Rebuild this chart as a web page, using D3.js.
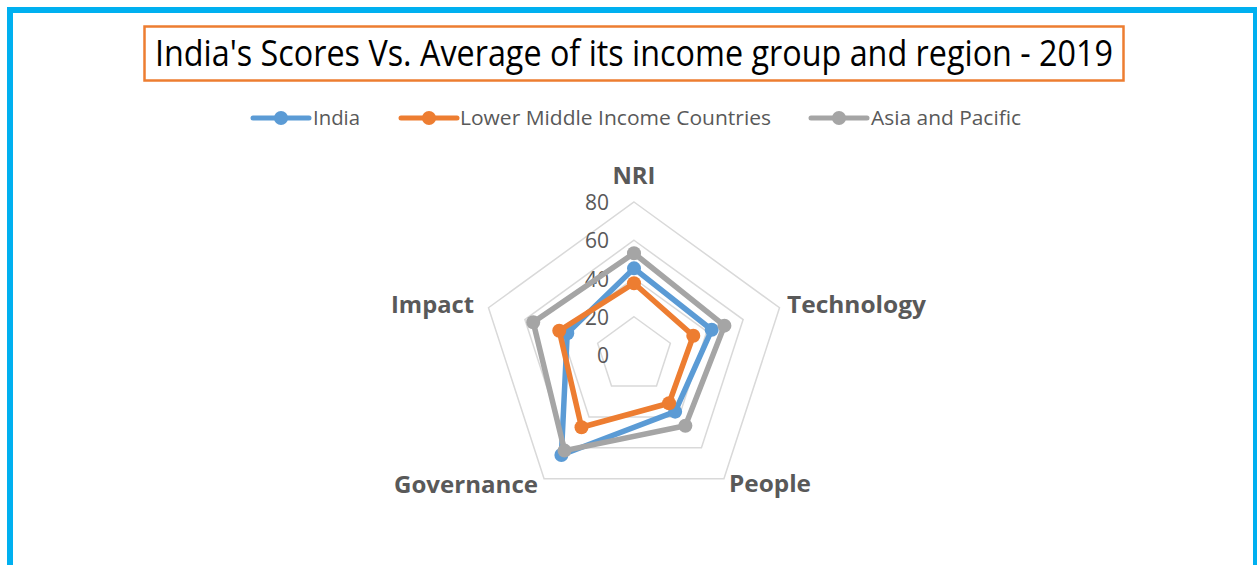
<!DOCTYPE html>
<html>
<head>
<meta charset="utf-8">
<script src="https://cdn.jsdelivr.net/npm/d3@7"></script>
<style>
  body { margin: 0; background: #fff; }
  text { font-family: "Open Sans", "Noto Sans", sans-serif; }
</style>
</head>
<body>
<div id="chart"></div>
<script>
// data
var axes = ["NRI", "Technology", "People", "Governance", "Impact"];
var india = [45.3, 42.7, 36.6, 64.6, 36.7];
var lowerMiddle = [37.5, 32.6, 31.2, 46.7, 41.1];
var asiaPacific = [53.2, 49.7, 45.7, 61.8, 55.4];
var ticks = [0, 20, 40, 60, 80];
var seriesNames = ["India", "Lower Middle Income Countries", "Asia and Pacific"];
var colors = ["#5B9BD5", "#ED7D31", "#A5A5A5"];

var svgWidth = 1257;
var svgHeight = 565;
var cx = 634, cy = 355;

var svg = d3.select("#chart")
  .append("svg")
  .attr("width", svgWidth)
  .attr("height", svgHeight);

// outer frame
svg.append("rect")
  .attr("x", 10).attr("y", 10)
  .attr("width", 1246).attr("height", 600)
  .attr("fill", "none")
  .attr("stroke", "#00B0F0")
  .attr("stroke-width", 6);

// title box
svg.append("rect")
  .attr("x", 144.5).attr("y", 26.5)
  .attr("width", 979).attr("height", 54)
  .attr("fill", "#fff")
  .attr("stroke", "#ED7D31")
  .attr("stroke-width", 2.5);

svg.append("text")
  .attr("x", 155).attr("y", 66)
  .attr("textLength", 958)
  .attr("lengthAdjust", "spacingAndGlyphs")
  .style("font-size", "36px")
  .style("fill", "#000")
  .text("India's Scores Vs. Average of its income group and region - 2019");

// legend
var legendItems = [
  {x: 253, tx: 313, tw: 47},
  {x: 401, tx: 460, tw: 311},
  {x: 811, tx: 871, tw: 150}
];
var legend = svg.append("g");
legendItems.forEach(function(d, i) {
  legend.append("line")
    .attr("x1", d.x).attr("x2", d.x + 56)
    .attr("y1", 118).attr("y2", 118)
    .attr("stroke", colors[i])
    .attr("stroke-width", 5)
    .attr("stroke-linecap", "round");
  legend.append("circle")
    .attr("cx", d.x + 28).attr("cy", 118)
    .attr("r", 7)
    .attr("fill", colors[i]);
  legend.append("text")
    .attr("x", d.tx).attr("y", 125)
    .attr("textLength", d.tw)
    .attr("lengthAdjust", "spacingAndGlyphs")
    .style("font-size", "20px")
    .style("fill", "#595959")
    .text(seriesNames[i]);
});

// radial scale
var r = d3.scaleLinear().domain([0, 80]).range([0, 153]);
var angle = d3.scalePoint().domain(axes).range([0, 2 * Math.PI * 4 / 5]);

function pt(axis, v) {
  var a = angle(axis);
  return [cx + r(v) * Math.sin(a), cy - r(v) * Math.cos(a)];
}

var chartGroup = svg.append("g");

// grid pentagons
chartGroup.selectAll(".grid")
  .data(ticks.filter(function(t) { return t > 0; }))
  .enter()
  .append("polygon")
  .attr("points", function(t) {
    return axes.map(function(a) { return pt(a, t).join(","); }).join(" ");
  })
  .attr("fill", "none")
  .attr("stroke", "#D9D9D9")
  .attr("stroke-width", 1.5);

// tick labels
chartGroup.selectAll(".tick")
  .data(ticks)
  .enter()
  .append("text")
  .attr("x", cx - 25)
  .attr("y", function(t) { return cy - r(t) + 8; })
  .attr("text-anchor", "end")
  .style("font-size", "21px")
  .style("fill", "#595959")
  .text(function(t) { return t; });

// series
var line = d3.line().curve(d3.curveLinearClosed);
[india, lowerMiddle, asiaPacific].forEach(function(values, i) {
  var pts = axes.map(function(a, j) { return pt(a, values[j]); });
  chartGroup.append("path")
    .attr("d", line(pts))
    .attr("fill", "none")
    .attr("stroke", colors[i])
    .attr("stroke-width", 5.5)
    .attr("stroke-linejoin", "round");
  chartGroup.selectAll(".m" + i)
    .data(pts)
    .enter()
    .append("circle")
    .attr("cx", function(p) { return p[0]; })
    .attr("cy", function(p) { return p[1]; })
    .attr("r", 7)
    .attr("fill", colors[i]);
});

// axis labels
var labelPos = [
  {x: 634, y: 184, anchor: "middle", w: 43},
  {x: 787, y: 313, anchor: "start", w: 139},
  {x: 729, y: 492, anchor: "start", w: 82},
  {x: 538, y: 493, anchor: "end", w: 144},
  {x: 474, y: 313, anchor: "end", w: 83}
];
chartGroup.selectAll(".axisLabel")
  .data(axes)
  .enter()
  .append("text")
  .attr("x", function(d, i) { return labelPos[i].x; })
  .attr("y", function(d, i) { return labelPos[i].y; })
  .attr("text-anchor", function(d, i) { return labelPos[i].anchor; })
  .attr("textLength", function(d, i) { return labelPos[i].w; })
  .attr("lengthAdjust", "spacingAndGlyphs")
  .style("font-size", "24px")
  .style("font-weight", "bold")
  .style("fill", "#595959")
  .text(function(d) { return d; });
</script>
</body>
</html>
